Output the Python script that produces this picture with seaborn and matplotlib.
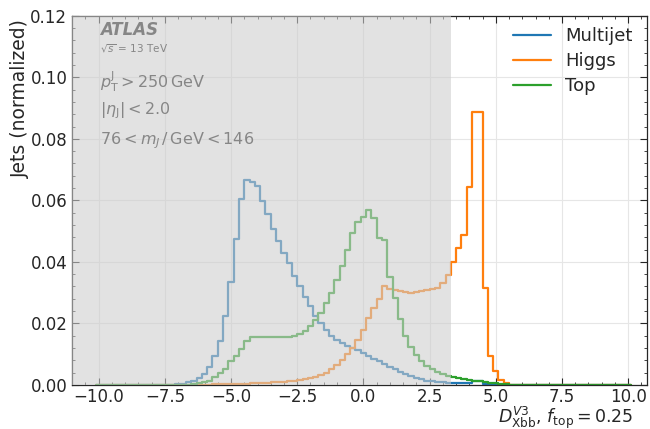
import numpy as np
import pandas as pd
import matplotlib
matplotlib.use("Agg")
import matplotlib.pyplot as plt
import seaborn as sns
from matplotlib.ticker import MultipleLocator

# D_Xbb histogram, 101 bins of width 0.2, centres -10.0 ... 10.0
bin_centres = np.round(np.arange(-10.0, 10.01, 0.2), 1)
bin_range = (-10.1, 10.1)
bin_width = 0.2

# normalised bin contents (one row = 10 bins)
multijet = [0, 0, 0, 0, 0, 0, 0, 0, 0, 0,
            0, 0, 0, 0.0001, 0.0001, 0.0002, 0.0004, 0.0008, 0.0014, 0.0022,
            0.0036, 0.0058, 0.0094, 0.0143, 0.0225, 0.0334, 0.0475, 0.0605, 0.0667, 0.0659,
            0.0647, 0.0599, 0.0556, 0.0506, 0.0469, 0.0430, 0.0395, 0.0355, 0.0320, 0.0285,
            0.0255, 0.0225, 0.0200, 0.0178, 0.0160, 0.0145, 0.0135, 0.0127, 0.0120, 0.0112,
            0.0103, 0.0094, 0.0085, 0.0076, 0.0067, 0.0058, 0.0050, 0.0043, 0.0036, 0.0029,
            0.0023, 0.0018, 0.0014, 0.0011, 0.0009, 0.0008, 0.0007, 0.0006, 0.0006, 0.0005,
            0.0006, 0.0011, 0.0011, 0.0004, 0.0002, 0.0001, 0, 0, 0, 0,
            0, 0, 0, 0, 0, 0, 0, 0, 0, 0,
            0, 0, 0, 0, 0, 0, 0, 0, 0, 0, 0]

higgs = [0, 0, 0, 0, 0, 0, 0, 0, 0, 0,
         0, 0, 0, 0, 0, 0.0001, 0.0001, 0.0001, 0.0001, 0.0001,
         0.0001, 0.0001, 0.0002, 0.0002, 0.0002, 0.0003, 0.0003, 0.0004, 0.0004, 0.0005,
         0.0005, 0.0006, 0.0007, 0.0008, 0.0009, 0.0010, 0.0012, 0.0014, 0.0016, 0.0019,
         0.0023, 0.0027, 0.0033, 0.0040, 0.0050, 0.0063, 0.0080, 0.0100, 0.0119, 0.0146,
         0.0179, 0.0217, 0.0250, 0.0280, 0.0320, 0.0312, 0.0307, 0.0304, 0.0301, 0.0299,
         0.0301, 0.0304, 0.0308, 0.0311, 0.0314, 0.0331, 0.0358, 0.0401, 0.0445, 0.0488,
         0.0645, 0.0887, 0.0887, 0.0316, 0.0093, 0.0045, 0.0016, 0.0005, 0.0001, 0,
         0, 0, 0, 0, 0, 0, 0, 0, 0, 0,
         0, 0, 0, 0, 0, 0, 0, 0, 0, 0, 0]

top = [0, 0, 0, 0, 0, 0, 0, 0, 0, 0,
       0, 0, 0, 0, 0, 0, 0, 0.0001, 0.0003, 0.0005,
       0.0008, 0.0014, 0.0025, 0.0038, 0.0052, 0.0076, 0.0095, 0.0117, 0.0141, 0.0154,
       0.0157, 0.0157, 0.0156, 0.0155, 0.0156, 0.0156, 0.0157, 0.0160, 0.0166, 0.0175,
       0.0190, 0.0210, 0.0235, 0.0265, 0.0300, 0.0340, 0.0385, 0.0440, 0.0495, 0.0528,
       0.0547, 0.0569, 0.0542, 0.0478, 0.0470, 0.0352, 0.0282, 0.0214, 0.0160, 0.0122,
       0.0096, 0.0076, 0.0061, 0.0050, 0.0043, 0.0036, 0.0030, 0.0025, 0.0021, 0.0018,
       0.0015, 0.0013, 0.0011, 0.0009, 0.0007, 0.0005, 0.0003, 0.0002, 0.0001, 0.0001,
       0, 0, 0, 0, 0, 0, 0, 0, 0, 0,
       0, 0, 0, 0, 0, 0, 0, 0, 0, 0, 0]

samples = ['Multijet', 'Higgs', 'Top']
colours = ['#1f77b4', '#ff7f0e', '#2ca02c']
cut_value = 3.32  # everything left of this is greyed out

df = pd.DataFrame({
    'D': np.tile(bin_centres, 3),
    'w': np.concatenate([multijet, higgs, top]),
    'sample': np.repeat(samples, len(bin_centres)),
})

sns.set_theme(style='ticks')
plt.rcParams['font.family'] = ['DejaVu Sans']
plt.rcParams['mathtext.fontset'] = 'dejavusans'

fig, ax = plt.subplots(figsize=(6.5, 4.29), dpi=100)
fig.subplots_adjust(left=0.111, right=0.995, bottom=0.103, top=0.963)

for s, c in zip(samples, colours):
    sns.histplot(data=df[df['sample'] == s], x='D', weights='w',
                 binwidth=bin_width, binrange=bin_range,
                 element='step', fill=False, color=c, lw=1.6, label=s, ax=ax)

ax.set_xlim(-11, 10.7)
ax.set_ylim(0, 0.12)
ax.axvspan(-11, cut_value, color='#cdcdcd', alpha=0.58, lw=0, zorder=3)

ax.xaxis.set_major_locator(MultipleLocator(2.5))
ax.xaxis.set_minor_locator(MultipleLocator(0.5))
ax.yaxis.set_major_locator(MultipleLocator(0.02))
ax.yaxis.set_minor_locator(MultipleLocator(0.004))
ax.tick_params(which='both', direction='in', top=True, right=True, labelsize=12)
ax.tick_params(axis='x', pad=2.5)
ax.tick_params(which='major', length=5, width=0.8)
ax.tick_params(which='minor', length=2.5, width=0.6)
ax.grid(True, which='major', color='#e6e6e6', lw=0.8)
for sp in ax.spines.values():
    sp.set_linewidth(0.9)

ax.set_ylabel('Jets (normalized)', fontsize=13.5, loc='top')
ax.yaxis.set_label_coords(-0.073, 0.99)
ax.set_xlabel(r'$D_{\mathrm{Xbb}}^{V3}$, $f_{\mathrm{top}} = 0.25$', fontsize=12.5, loc='right')
ax.xaxis.set_label_coords(0.976, -0.055)

# labels sit under the grey band so they come out grey as well
ax.text(0.049, 0.962, 'ATLAS', transform=ax.transAxes, fontsize=12,
        fontweight='bold', fontstyle='italic', va='center', zorder=1)
ax.text(0.049, 0.911, r'$\sqrt{s}$ = 13 TeV', transform=ax.transAxes,
        fontsize=7.5, va='center', zorder=1)
ax.text(0.049, 0.821, r'$p_{\mathrm{T}}^{\mathrm{J}} > 250\,\mathrm{GeV}$',
        transform=ax.transAxes, fontsize=11.5, va='center', zorder=1)
ax.text(0.049, 0.743, r'$|\eta_{\mathrm{J}}| < 2.0$', transform=ax.transAxes,
        fontsize=11.5, va='center', zorder=1)
ax.text(0.049, 0.662, r'$76 < m_{J}\,/\,\mathrm{GeV} < 146$',
        transform=ax.transAxes, fontsize=11.5, va='center', zorder=1)

ax.legend(loc='upper right', bbox_to_anchor=(1.004, 1.014), frameon=False,
          fontsize=13, handlelength=2.1, labelspacing=0.4)

fig.savefig('out.png', dpi=100)
